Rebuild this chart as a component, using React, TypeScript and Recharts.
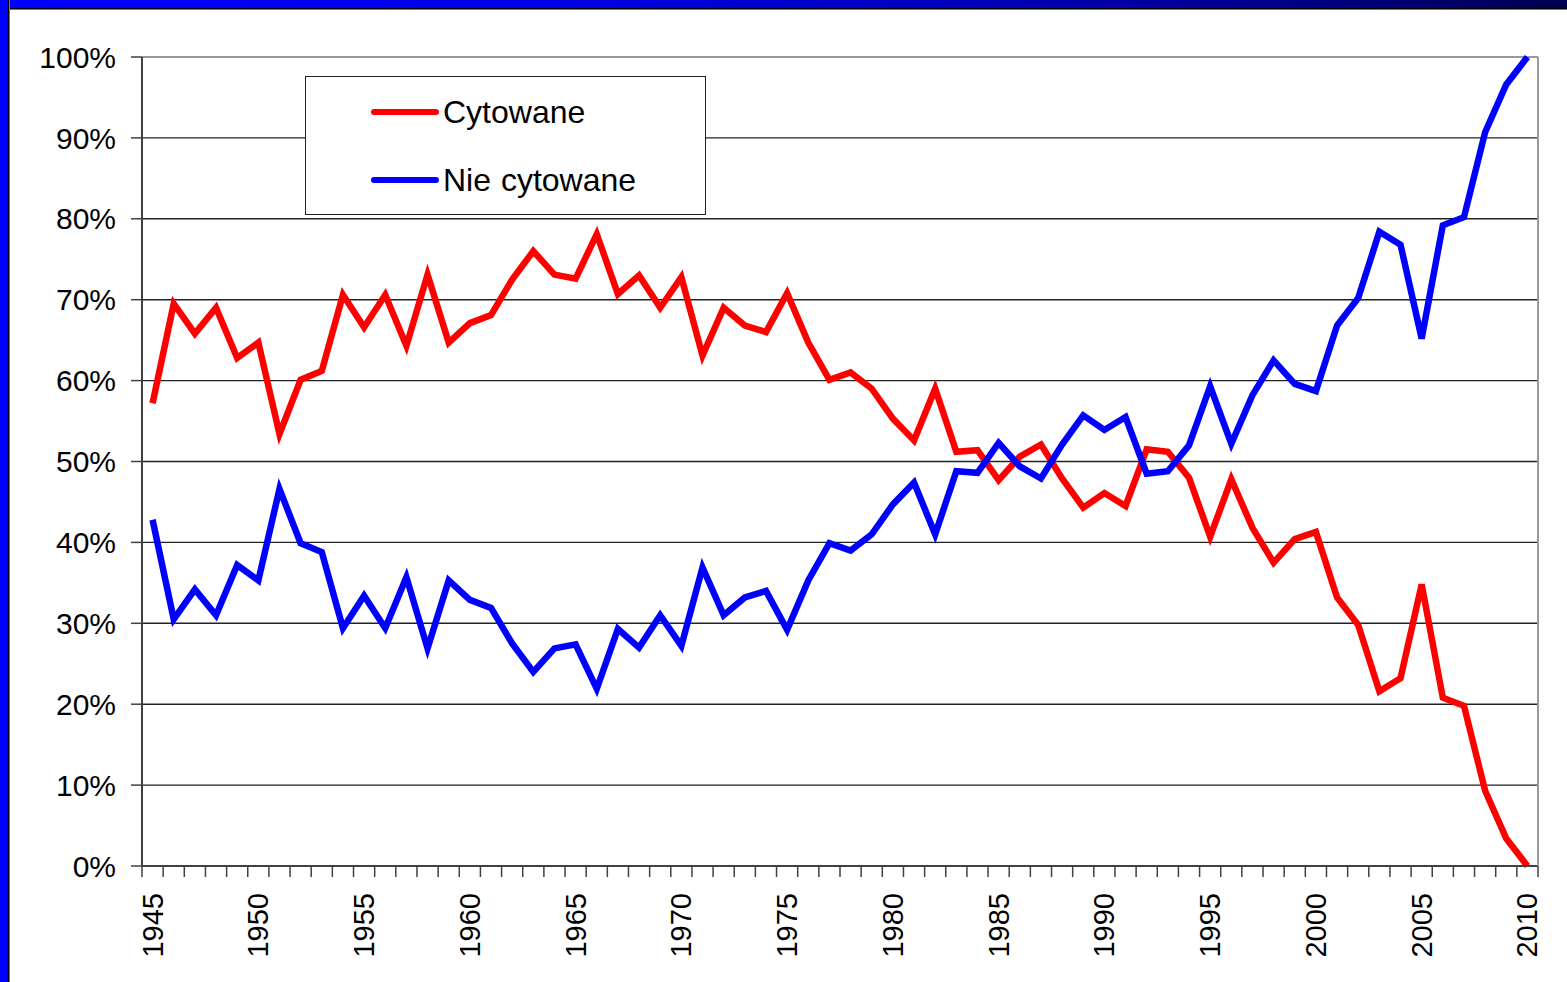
import { LineChart, Line, XAxis, YAxis, CartesianGrid, Legend, ReferenceLine } from "recharts";

const YEARS = [
  1945, 1946, 1947, 1948, 1949, 1950, 1951, 1952, 1953, 1954, 1955, 1956, 1957, 1958, 1959, 1960, 1961,
  1962, 1963, 1964, 1965, 1966, 1967, 1968, 1969, 1970, 1971, 1972, 1973, 1974, 1975, 1976, 1977, 1978,
  1979, 1980, 1981, 1982, 1983, 1984, 1985, 1986, 1987, 1988, 1989, 1990, 1991, 1992, 1993, 1994, 1995,
  1996, 1997, 1998, 1999, 2000, 2001, 2002, 2003, 2004, 2005, 2006, 2007, 2008, 2009, 2010,
];

// % cytowanych prac
const CYTOWANE = [
  57.2, 69.5, 65.8, 69.0, 62.8, 64.7, 53.4, 60.1, 61.2, 70.6, 66.6, 70.6, 64.3, 73.1, 64.7, 67.1, 68.1,
  72.5, 76.0, 73.1, 72.6, 78.1, 70.7, 73.0, 69.0, 72.8, 63.1, 69.0, 66.8, 66.0, 70.8, 64.7, 60.1, 61.0,
  59.0, 55.3, 52.6, 59.0, 51.2, 51.4, 47.7, 50.6, 52.1, 47.9, 44.3, 46.1, 44.5, 51.5, 51.2, 48.0, 40.7,
  47.8, 41.8, 37.5, 40.4, 41.3, 33.2, 29.8, 21.6, 23.2, 34.8, 20.8, 19.8, 9.3, 3.4, 0,
];

const NIE_CYTOWANE = [
  42.8, 30.5, 34.2, 31.0, 37.2, 35.3, 46.6, 39.9, 38.8, 29.4, 33.4, 29.4, 35.7, 26.9, 35.3, 32.9, 31.9,
  27.5, 24.0, 26.9, 27.4, 21.9, 29.3, 27.0, 31.0, 27.2, 36.9, 31.0, 33.2, 34.0, 29.2, 35.3, 39.9, 39.0,
  41.0, 44.7, 47.4, 41.0, 48.8, 48.6, 52.3, 49.4, 47.9, 52.1, 55.7, 53.9, 55.5, 48.5, 48.8, 52.0, 59.3,
  52.2, 58.2, 62.5, 59.6, 58.7, 66.8, 70.2, 78.4, 76.8, 65.2, 79.2, 80.2, 90.7, 96.6, 100,
];

const Y_TICKS = [0, 10, 20, 30, 40, 50, 60, 70, 80, 90, 100];
const LABEL_YEARS = [1945, 1950, 1955, 1960, 1965, 1970, 1975, 1980, 1985, 1990, 1995, 2000, 2005, 2010];
// tick marks sit between the years, like in the original
const BOUNDARIES = [...YEARS.map((y) => y - 0.5), YEARS[YEARS.length - 1] + 0.5];

const data = YEARS.map((year, i) => ({
  year,
  cyt: CYTOWANE[i],
  nie: NIE_CYTOWANE[i],
}));

const FONT = "'Liberation Sans', Arial, sans-serif";

function YearTick({ x, y, payload }: any) {
  return (
    <text
      x={x}
      y={y}
      transform={`rotate(-90, ${x}, ${y})`}
      textAnchor="end"
      dominantBaseline="central"
      fontSize={29}
      fontFamily={FONT}
      fill="#000"
    >
      {payload.value}
    </text>
  );
}

const NoLabel = () => <g />;

function LegendBox({ payload }: any) {
  return (
    <div
      style={{
        width: 399,
        height: 137,
        border: "1px solid #222",
        background: "#fff",
        boxSizing: "content-box",
        fontFamily: FONT,
        fontSize: 32,
        wordSpacing: 1,
        color: "#000",
      }}
    >
      {(payload || []).map((p: any, i: number) => (
        <div
          key={i}
          style={{ display: "flex", alignItems: "center", height: 34, marginTop: i === 0 ? 18 : 34, marginLeft: 64 }}
        >
          <svg width={70} height={10} style={{ marginRight: 3 }}>
            <line x1={4} y1={5} x2={66} y2={5} stroke={p.color} strokeWidth={6} strokeLinecap="round" />
          </svg>
          <span>{p.value}</span>
        </div>
      ))}
    </div>
  );
}

export default function App() {
  return (
    <div style={{ position: "relative", width: 1567, height: 982, background: "#fff", overflow: "hidden" }}>
      <style>{`body{margin:0}`}</style>
      <LineChart width={1567} height={982} data={data} margin={{ top: 57, right: 28, left: 0, bottom: 0 }}>
        <CartesianGrid vertical={false} stroke="#222" strokeWidth={1.4} xAxisId="b_labels" />
        <XAxis
          xAxisId="a_marks"
          dataKey="year"
          type="number"
          domain={[1944.5, 2010.5]}
          ticks={BOUNDARIES}
          interval={0}
          tick={<NoLabel />}
          tickSize={11}
          height={1}
          axisLine={{ stroke: "#404040", strokeWidth: 2 }}
          tickLine={{ stroke: "#404040", strokeWidth: 1.5 }}
        />
        <XAxis
          xAxisId="b_labels"
          dataKey="year"
          type="number"
          domain={[1944.5, 2010.5]}
          ticks={LABEL_YEARS}
          interval={0}
          tickLine={false}
          axisLine={false}
          tickSize={0}
          tickMargin={26}
          height={115}
          tick={<YearTick />}
        />
        <YAxis
          domain={[0, 100]}
          ticks={Y_TICKS}
          interval={0}
          width={142}
          tickSize={11}
          tickMargin={15}
          tickFormatter={(v) => `${v}%`}
          axisLine={{ stroke: "#404040", strokeWidth: 2 }}
          tickLine={{ stroke: "#404040", strokeWidth: 1.5 }}
          tick={{ fontSize: 30, fontFamily: FONT, fill: "#000" }}
        />
        <YAxis
          yAxisId="right"
          orientation="right"
          domain={[0, 100]}
          width={1}
          tick={false}
          tickLine={false}
          axisLine={{ stroke: "#999", strokeWidth: 2 }}
        />
        <ReferenceLine y={100} xAxisId="b_labels" stroke="#999" strokeWidth={2} />
        <Legend
          layout="horizontal"
          verticalAlign="middle"
          align="center"
          content={<LegendBox />}
          wrapperStyle={{ position: "absolute", left: 305, top: 76, width: "auto" }}
        />
        <Line
          xAxisId="b_labels"
          dataKey="cyt"
          name="Cytowane"
          stroke="#ff0000"
          strokeWidth={6.5}
          dot={false}
          activeDot={false}
          isAnimationActive={false}
        />
        <Line
          xAxisId="b_labels"
          dataKey="nie"
          name="Nie cytowane"
          stroke="#0000ff"
          strokeWidth={6.5}
          dot={false}
          activeDot={false}
          isAnimationActive={false}
        />
      </LineChart>
      <div
        style={{
          position: "absolute",
          left: 0,
          top: 0,
          width: 1567,
          height: 8,
          background: "linear-gradient(to right, #0000ff 0%, #0000e6 35%, #0000c0 60%, #000090 80%, #000050 100%)",
          borderBottom: "1px solid #000",
          boxShadow: "0 1px 0 #777",
        }}
      />
      <div
        style={{
          position: "absolute",
          left: 0,
          top: 0,
          width: 8,
          height: 982,
          background: "#0000ff",
          borderRight: "1px solid #000",
          boxShadow: "1px 0 0 #777",
        }}
      />
    </div>
  );
}
